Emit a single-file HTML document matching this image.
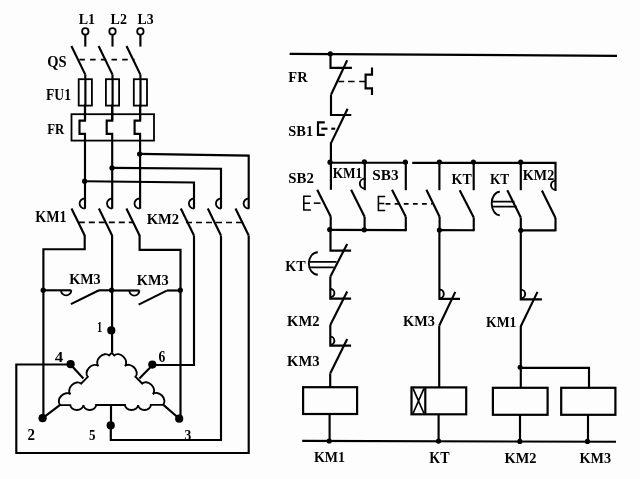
<!DOCTYPE html>
<html><head><meta charset="utf-8"><title>Star-delta control circuit</title>
<style>html,body{margin:0;padding:0;background:#fdfdfd;width:640px;height:479px;overflow:hidden} svg{display:block;will-change:transform}</style>
</head><body>
<svg width="640" height="479" viewBox="0 0 640 479">
<rect width="640" height="479" fill="#fdfdfd"/>
<g stroke="#000" fill="none" stroke-linecap="butt" stroke-linejoin="miter">
<circle cx="85.3" cy="31.4" r="3.2" stroke-width="1.8" fill="#fff"/>
<line x1="85.3" y1="34.6" x2="85.3" y2="46.6" stroke-width="2.15" />
<circle cx="112.5" cy="31.4" r="3.2" stroke-width="1.8" fill="#fff"/>
<line x1="112.5" y1="34.6" x2="112.5" y2="46.6" stroke-width="2.15" />
<circle cx="140.4" cy="31.4" r="3.2" stroke-width="1.8" fill="#fff"/>
<line x1="140.4" y1="34.6" x2="140.4" y2="46.6" stroke-width="2.15" />
<line x1="71.4" y1="46" x2="85.3" y2="74.6" stroke-width="2.15" />
<path d="M85.3,74.4 V79 M85.4,79 V105.6 L85,105.6 V120.6" stroke-width="2.15" fill="none" />
<line x1="98.60000000000001" y1="46" x2="112.5" y2="74.6" stroke-width="2.15" />
<path d="M112.5,74.4 V79 M112.60000000000001,79 V105.6 L112.2,105.6 V120.6" stroke-width="2.15" fill="none" />
<line x1="126.5" y1="46" x2="140.4" y2="74.6" stroke-width="2.15" />
<path d="M140.4,74.4 V79 M140.5,79 V105.6 L140.1,105.6 V120.6" stroke-width="2.15" fill="none" />
<path d="M79.4,59.6 H134.5" stroke-width="1.9" fill="none" stroke-dasharray="5.5,5.2"/>
<rect x="78.7" y="79.2" width="13.200000000000003" height="26.39999999999999" stroke-width="1.8" fill="none"/>
<rect x="105.9" y="79.2" width="13.200000000000003" height="26.39999999999999" stroke-width="1.8" fill="none"/>
<rect x="133.79999999999998" y="79.2" width="13.200000000000017" height="26.39999999999999" stroke-width="1.8" fill="none"/>
<rect x="71.5" y="114.2" width="82.5" height="26.39999999999999" stroke-width="1.8" fill="none"/>
<path d="M85,105.6 V120.6 H79.5 V133.8 H85 V208.8" stroke-width="2.15" fill="none" />
<path d="M112.2,105.6 V120.6 H106.7 V133.8 H112.2 V208.8" stroke-width="2.15" fill="none" />
<path d="M140.1,105.6 V120.6 H134.6 V133.8 H140.1 V208.8" stroke-width="2.15" fill="none" />
<circle cx="139.6" cy="154" r="2.6" fill="#000" stroke="none"/>
<circle cx="112" cy="167.9" r="2.6" fill="#000" stroke="none"/>
<circle cx="84.6" cy="181.2" r="2.6" fill="#000" stroke="none"/>
<path d="M139.6,153.9 L248.7,155.6 V208.8" stroke-width="2.15" fill="none" />
<path d="M112,167.9 L221,168.8 V208.8" stroke-width="2.15" fill="none" />
<path d="M84.6,181.2 L194,182.5 V208.8" stroke-width="2.15" fill="none" />
<path d="M84.7,198.5 A5.1,5.1 0 0 0 84.7,208.7" stroke-width="1.8" fill="none" />
<path d="M112.1,198.5 A5.1,5.1 0 0 0 112.1,208.7" stroke-width="1.8" fill="none" />
<path d="M139.6,198.5 A5.1,5.1 0 0 0 139.6,208.7" stroke-width="1.8" fill="none" />
<path d="M194,198.5 A5.1,5.1 0 0 0 194,208.7" stroke-width="1.8" fill="none" />
<path d="M221,198.5 A5.1,5.1 0 0 0 221,208.7" stroke-width="1.8" fill="none" />
<path d="M248.7,198.5 A5.1,5.1 0 0 0 248.7,208.7" stroke-width="1.8" fill="none" />
<line x1="71.5" y1="208.5" x2="84.7" y2="235.5" stroke-width="2.15" />
<line x1="98.89999999999999" y1="208.5" x2="112.1" y2="235.5" stroke-width="2.15" />
<line x1="126.39999999999999" y1="208.5" x2="139.6" y2="235.5" stroke-width="2.15" />
<line x1="180.8" y1="208.5" x2="194" y2="235.5" stroke-width="2.15" />
<line x1="207.8" y1="208.5" x2="221" y2="235.5" stroke-width="2.15" />
<line x1="235.5" y1="208.5" x2="248.7" y2="235.5" stroke-width="2.15" />
<path d="M78.8,222.4 H134" stroke-width="1.6" fill="none" stroke-dasharray="6,4"/>
<path d="M186,222.5 H244" stroke-width="1.6" fill="none" stroke-dasharray="6,4"/>
<path d="M84.7,235 V249.2 H43.4 V418" stroke-width="2.15" fill="none" />
<path d="M112.1,235 V352.8" stroke-width="2.15" fill="none" />
<path d="M139.6,235 V249.9 H180.5 V418.7" stroke-width="2.15" fill="none" />
<circle cx="43.2" cy="290.2" r="2.6" fill="#000" stroke="none"/>
<circle cx="111.6" cy="290.2" r="2.6" fill="#000" stroke="none"/>
<circle cx="180.3" cy="290.2" r="2.6" fill="#000" stroke="none"/>
<path d="M43.2,290.3 H71.3" stroke-width="2.15" fill="none" />
<path d="M61,290.3 A5,5 0 0 0 71.3,290.3" stroke-width="1.8" fill="none" />
<line x1="70.9" y1="304.1" x2="99" y2="290.3" stroke-width="2.15" />
<path d="M99,290.3 H111.6" stroke-width="2.15" fill="none" />
<path d="M111.6,290.5 H139.4" stroke-width="2.15" fill="none" />
<path d="M129.3,290.5 A5,5 0 0 0 139.4,290.5" stroke-width="1.8" fill="none" />
<line x1="138.65" y1="304.65" x2="166.8" y2="290.6" stroke-width="2.15" />
<path d="M166.8,290.5 H180.3" stroke-width="2.15" fill="none" />
<path d="M194,235.5 V365 H152.5" stroke-width="2.15" fill="none" />
<path d="M221,235.5 V440 H110.8 V425.5" stroke-width="2.15" fill="none" />
<path d="M248.7,235.5 V453 H16.3 V364.5 H70" stroke-width="2.15" fill="none" />
<circle cx="111.3" cy="330.4" r="4.1" fill="#000" stroke="none"/>
<circle cx="70.6" cy="364.2" r="4.1" fill="#000" stroke="none"/>
<circle cx="152.3" cy="364.6" r="4.1" fill="#000" stroke="none"/>
<circle cx="42.6" cy="418.2" r="4.1" fill="#000" stroke="none"/>
<circle cx="179.2" cy="418.7" r="4.1" fill="#000" stroke="none"/>
<circle cx="110.7" cy="425.4" r="4.1" fill="#000" stroke="none"/>
<path d="M111.70,352.80 L109.11,355.42 A7.55,5.60 134.78 0 0 98.47,366.14 L98.47,366.14 A7.55,5.60 134.78 0 0 87.83,376.86 L81.08,383.66 A7.55,5.60 134.78 0 0 70.44,394.38 L70.44,394.38 A7.37,5.60 134.78 0 0 60.06,404.84 L59.80,405.10" stroke-width="1.9" fill="none" />
<path d="M111.70,352.80 L114.28,355.41 A7.52,5.60 45.22 0 1 124.88,366.09 L124.88,366.09 A7.52,5.60 45.22 0 1 135.48,376.77 L142.20,383.54 A7.52,5.60 45.22 0 1 152.80,394.22 L152.80,394.22 A7.34,5.60 45.22 0 1 163.14,404.64 L163.40,404.90" stroke-width="1.9" fill="none" />
<path d="M59.80,405.10 L70.30,405.08 A6.55,5.00 -0.11 0 0 83.40,405.05 L83.40,405.05 A6.35,5.00 -0.11 0 0 96.10,405.03 L125.00,404.97 A6.55,5.00 -0.11 0 0 138.10,404.95 L138.10,404.95 A6.35,5.00 -0.11 0 0 150.80,404.92 L163.40,404.90" stroke-width="1.9" fill="none" />
<line x1="70.3" y1="364.3" x2="83.4" y2="378.4" stroke-width="2.15" />
<line x1="152.6" y1="365" x2="139.4" y2="378.4" stroke-width="2.15" />
<line x1="59.8" y1="405.1" x2="42.6" y2="418.2" stroke-width="2.15" />
<line x1="163.4" y1="404.9" x2="179.4" y2="418.8" stroke-width="2.15" />
<path d="M111,405.3 V425.5" stroke-width="2.15" fill="none" />
<line x1="289.6" y1="53.9" x2="617" y2="55.8" stroke-width="2.2" />
<circle cx="330.3" cy="53.8" r="2.6" fill="#000" stroke="none"/>
<path d="M330.5,54 V67.8 H351.9" stroke-width="2.15" fill="none" />
<line x1="347.2" y1="60.3" x2="331" y2="94.7" stroke-width="2.15" />
<path d="M338.3,81.5 H344.2 M348,81.5 H354.6 M359.2,81.5 H365.6" stroke-width="1.5" fill="none" />
<path d="M372,67.4 V74.6 H365.6 V88.4 H372 V95" stroke-width="2.15" fill="none" />
<path d="M331,94.7 V115 H351.3" stroke-width="2.15" fill="none" />
<line x1="347.6" y1="108.8" x2="330.9" y2="143.4" stroke-width="2.15" />
<path d="M324.8,122.4 H318 V134.8 H324.8" stroke-width="2.15" fill="none" />
<path d="M321.3,128.7 H327.5" stroke-width="2.15" fill="none" />
<path d="M331.3,128.7 H335.2" stroke-width="2.15" fill="none" />
<path d="M330.9,142.5 V189.8" stroke-width="2.15" fill="none" />
<path d="M330.7,216.5 V230" stroke-width="2.15" fill="none" />
<path d="M330,162.7 H408" stroke-width="2.15" fill="none" />
<path d="M412.2,162.9 H555.5 V191" stroke-width="2.15" fill="none" />
<circle cx="330" cy="162.2" r="2.6" fill="#000" stroke="none"/>
<circle cx="364.4" cy="161.8" r="2.6" fill="#000" stroke="none"/>
<circle cx="405.3" cy="162" r="2.6" fill="#000" stroke="none"/>
<circle cx="439.4" cy="162" r="2.6" fill="#000" stroke="none"/>
<circle cx="473.4" cy="162" r="2.6" fill="#000" stroke="none"/>
<circle cx="520.7" cy="162.2" r="2.6" fill="#000" stroke="none"/>
<line x1="364.8" y1="162" x2="364.8" y2="190.2" stroke-width="2.15" />
<line x1="405.8" y1="162" x2="405.8" y2="190.2" stroke-width="2.15" />
<line x1="439.4" y1="162" x2="439.4" y2="190.2" stroke-width="2.15" />
<line x1="473.7" y1="162" x2="473.7" y2="190.2" stroke-width="2.15" />
<line x1="520.8" y1="162" x2="520.8" y2="190.2" stroke-width="2.15" />
<path d="M364.8,178.6 A5,5 0 0 0 364.8,188.6" stroke-width="1.9" fill="none" />
<path d="M555.6,180.6 A4.6,4.6 0 0 0 555.6,189.8" stroke-width="1.9" fill="none" />
<line x1="317.2" y1="189.7" x2="330.8" y2="216.7" stroke-width="2.15" />
<line x1="351.1" y1="189.7" x2="364.6" y2="216.7" stroke-width="2.15" />
<line x1="392" y1="189.7" x2="405.8" y2="216.7" stroke-width="2.15" />
<line x1="426.4" y1="189.7" x2="439.6" y2="216.7" stroke-width="2.15" />
<line x1="459.7" y1="190.2" x2="473.75" y2="217.5" stroke-width="2.15" />
<line x1="507.3" y1="190.2" x2="520.8" y2="217.5" stroke-width="2.15" />
<line x1="541.9" y1="190.6" x2="555.5" y2="218" stroke-width="2.15" />
<line x1="364.6" y1="216.7" x2="364.6" y2="231" stroke-width="2.15" />
<line x1="405.8" y1="216.7" x2="405.8" y2="231.2" stroke-width="2.15" />
<line x1="439.6" y1="216.7" x2="439.6" y2="231" stroke-width="2.15" />
<line x1="473.75" y1="217.5" x2="473.75" y2="231.2" stroke-width="2.15" />
<line x1="520.8" y1="217.5" x2="520.8" y2="231" stroke-width="2.15" />
<line x1="555.5" y1="218" x2="555.5" y2="231.2" stroke-width="2.15" />
<path d="M330.5,229.8 L405.8,230.1" stroke-width="2.15" fill="none" />
<path d="M439.4,230.1 L473.75,230.2" stroke-width="2.15" fill="none" />
<path d="M520.8,230.3 L555.5,230.4" stroke-width="2.15" fill="none" />
<circle cx="329.7" cy="229.6" r="2.6" fill="#000" stroke="none"/>
<circle cx="364.2" cy="229.8" r="2.6" fill="#000" stroke="none"/>
<circle cx="439.4" cy="230.1" r="2.6" fill="#000" stroke="none"/>
<circle cx="520.8" cy="230.3" r="2.6" fill="#000" stroke="none"/>
<path d="M310.9,196.3 H303.8 V210 H310.9 M303.8,203.15 H310.0" stroke-width="1.55" fill="none" />
<path d="M313.8,203.15 H320.5" stroke-width="1.55" fill="none" />
<path d="M385.2,196.4 H378.4 V210.5 H385.2 M378.4,203.45 H384.3" stroke-width="1.55" fill="none" />
<path d="M385.6,203.8 H432" stroke-width="1.8" fill="none" stroke-dasharray="4.8,4.3"/>
<path d="M499.8,191.7 A8.1,11.75 0 0 0 499.8,215.2" stroke-width="1.9" fill="none" />
<path d="M492.5,201.6 H514.4 M492.5,206.6 H516.6" stroke-width="1.8" fill="none" />
<path d="M330.5,229.5 V250.6 H351.1" stroke-width="2.15" fill="none" />
<line x1="347.2" y1="243.9" x2="330.3" y2="276.7" stroke-width="2.15" />
<path d="M317.8,252.2 A9,11.25 0 0 0 317.8,274.7" stroke-width="1.9" fill="none" />
<path d="M309.8,261.9 H336.5 M309.8,267.3 H333.8" stroke-width="1.8" fill="none" />
<path d="M330.3,276.7 V298.6 H351.1" stroke-width="2.15" fill="none" />
<path d="M330.3,289 A4.1,4.1 0 0 1 330.3,297.2" stroke-width="1.9" fill="none" />
<line x1="347.2" y1="291.6" x2="330.3" y2="325" stroke-width="2.15" />
<path d="M330.3,325 V345.6 H351.1" stroke-width="2.15" fill="none" />
<path d="M330.3,336.6 A4.1,4.1 0 0 1 330.3,344.8" stroke-width="1.9" fill="none" />
<line x1="347.2" y1="339" x2="330.3" y2="373.3" stroke-width="2.15" />
<path d="M330.2,373.3 V387" stroke-width="2.15" fill="none" />
<rect x="303.1" y="387.2" width="54.0" height="26.80000000000001" stroke-width="2.2" fill="none"/>
<path d="M329.6,413.9 V441" stroke-width="2.15" fill="none" />
<line x1="302.2" y1="440.9" x2="616" y2="441.8" stroke-width="2.15" />
<circle cx="329.2" cy="441" r="2.6" fill="#000" stroke="none"/>
<circle cx="438.5" cy="441.1" r="2.6" fill="#000" stroke="none"/>
<circle cx="519.8" cy="441.4" r="2.6" fill="#000" stroke="none"/>
<circle cx="587.4" cy="441.4" r="2.6" fill="#000" stroke="none"/>
<path d="M439.4,229.6 V298.9 H460" stroke-width="2.15" fill="none" />
<path d="M439.4,289.5 A4.4,4.4 0 0 1 439.4,298.3" stroke-width="1.9" fill="none" />
<line x1="455.3" y1="291.9" x2="439.3" y2="325.5" stroke-width="2.15" />
<path d="M439.2,325.5 V387.2" stroke-width="2.15" fill="none" />
<rect x="411.5" y="387.4" width="54.69999999999999" height="26.900000000000034" stroke-width="2.2" fill="none"/>
<line x1="425.3" y1="387.2" x2="425.3" y2="414.5" stroke-width="2.2" />
<path d="M413,388.3 L424,413.5 M424,388.3 L413,413.5" stroke-width="1.7" fill="none" />
<path d="M438.6,414.5 V441" stroke-width="2.15" fill="none" />
<path d="M520.8,229.6 V299.4 H541.9" stroke-width="2.15" fill="none" />
<path d="M520.8,289.6 A4.4,4.4 0 0 1 520.8,298.4" stroke-width="1.9" fill="none" />
<line x1="537.5" y1="291.9" x2="520.8" y2="326.25" stroke-width="2.15" />
<path d="M520.8,326 V387.8" stroke-width="2.15" fill="none" />
<circle cx="520.1" cy="367.2" r="2.5" fill="#000" stroke="none"/>
<path d="M520.8,367.8 H589 V387.8" stroke-width="2.15" fill="none" />
<rect x="492.9" y="387.8" width="54.700000000000045" height="27.0" stroke-width="2.2" fill="none"/>
<rect x="561.2" y="387.8" width="54.19999999999993" height="27.0" stroke-width="2.2" fill="none"/>
<path d="M520,415 V441.4" stroke-width="2.15" fill="none" />
<path d="M588,415 V441.4" stroke-width="2.15" fill="none" />
</g>
<g font-family="Liberation Serif, serif" font-weight="bold" fill="#000">
<text x="78.70" y="23.75" font-size="14.89" textLength="16.35" lengthAdjust="spacingAndGlyphs">L1</text>
<text x="110.60" y="23.75" font-size="14.89" textLength="16.30" lengthAdjust="spacingAndGlyphs">L2</text>
<text x="137.60" y="23.75" font-size="14.89" textLength="16.10" lengthAdjust="spacingAndGlyphs">L3</text>
<text x="47.20" y="66.90" font-size="15.73" textLength="19.35" lengthAdjust="spacingAndGlyphs">QS</text>
<text x="46.00" y="99.80" font-size="16.03" textLength="25.00" lengthAdjust="spacingAndGlyphs">FU1</text>
<text x="47.20" y="133.75" font-size="14.27" textLength="17.10" lengthAdjust="spacingAndGlyphs">FR</text>
<text x="35.20" y="222.30" font-size="15.73" textLength="31.40" lengthAdjust="spacingAndGlyphs">KM1</text>
<text x="146.70" y="223.70" font-size="14.96" textLength="32.50" lengthAdjust="spacingAndGlyphs">KM2</text>
<text x="69.20" y="284.00" font-size="14.05" textLength="31.50" lengthAdjust="spacingAndGlyphs">KM3</text>
<text x="136.80" y="284.80" font-size="15.11" textLength="31.90" lengthAdjust="spacingAndGlyphs">KM3</text>
<text x="97.10" y="331.70" font-size="15.11" textLength="5.20" lengthAdjust="spacingAndGlyphs">1</text>
<text x="54.70" y="362.20" font-size="15.27" textLength="8.40" lengthAdjust="spacingAndGlyphs">4</text>
<text x="158.50" y="361.90" font-size="15.73" textLength="6.80" lengthAdjust="spacingAndGlyphs">6</text>
<text x="27.50" y="439.80" font-size="16.18" textLength="7.50" lengthAdjust="spacingAndGlyphs">2</text>
<text x="89.10" y="439.80" font-size="15.27" textLength="6.50" lengthAdjust="spacingAndGlyphs">5</text>
<text x="184.40" y="439.80" font-size="14.66" textLength="6.80" lengthAdjust="spacingAndGlyphs">3</text>
<text x="288.30" y="81.90" font-size="15.11" textLength="19.30" lengthAdjust="spacingAndGlyphs">FR</text>
<text x="288.30" y="135.60" font-size="15.57" textLength="24.80" lengthAdjust="spacingAndGlyphs">SB1</text>
<text x="288.30" y="182.80" font-size="13.82" textLength="25.60" lengthAdjust="spacingAndGlyphs">SB2</text>
<text x="332.70" y="178.40" font-size="15.42" textLength="29.60" lengthAdjust="spacingAndGlyphs">KM1</text>
<text x="372.20" y="180.00" font-size="15.57" textLength="26.40" lengthAdjust="spacingAndGlyphs">SB3</text>
<text x="451.60" y="183.90" font-size="14.35" textLength="20.10" lengthAdjust="spacingAndGlyphs">KT</text>
<text x="489.90" y="183.90" font-size="14.35" textLength="19.30" lengthAdjust="spacingAndGlyphs">KT</text>
<text x="522.80" y="179.70" font-size="15.57" textLength="31.40" lengthAdjust="spacingAndGlyphs">KM2</text>
<text x="285.30" y="270.90" font-size="14.66" textLength="20.40" lengthAdjust="spacingAndGlyphs">KT</text>
<text x="287.00" y="326.20" font-size="14.96" textLength="32.60" lengthAdjust="spacingAndGlyphs">KM2</text>
<text x="287.00" y="366.20" font-size="15.57" textLength="32.50" lengthAdjust="spacingAndGlyphs">KM3</text>
<text x="403.00" y="326.25" font-size="14.27" textLength="31.80" lengthAdjust="spacingAndGlyphs">KM3</text>
<text x="486.10" y="327.00" font-size="14.20" textLength="30.30" lengthAdjust="spacingAndGlyphs">KM1</text>
<text x="313.90" y="461.70" font-size="14.35" textLength="31.10" lengthAdjust="spacingAndGlyphs">KM1</text>
<text x="429.30" y="463.30" font-size="16.79" textLength="20.20" lengthAdjust="spacingAndGlyphs">KT</text>
<text x="504.60" y="462.60" font-size="15.57" textLength="31.90" lengthAdjust="spacingAndGlyphs">KM2</text>
<text x="579.40" y="462.60" font-size="15.57" textLength="31.60" lengthAdjust="spacingAndGlyphs">KM3</text>
</g>
</svg>
</body></html>
